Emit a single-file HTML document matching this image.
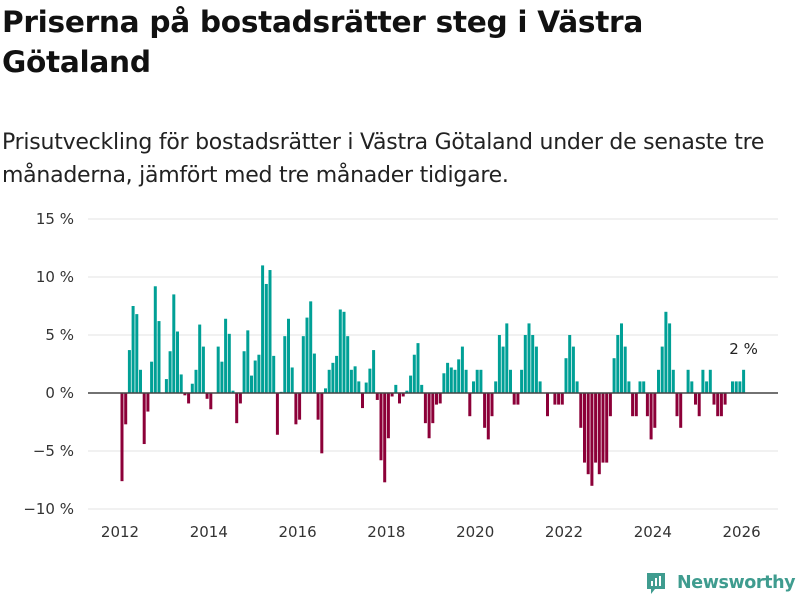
<!DOCTYPE html>
<html><head><meta charset="utf-8"><style>
body{margin:0;width:800px;height:600px;background:#fff;font-family:"Liberation Sans","DejaVu Sans",sans-serif;color:#111;overflow:hidden;position:relative}
h1{position:absolute;left:2px;top:2px;margin:0;font-size:29.6px;line-height:40px;font-weight:bold;font-family:"DejaVu Sans","Liberation Sans",sans-serif;letter-spacing:-0.3px}
p{position:absolute;left:2px;top:126px;margin:0;font-size:22px;line-height:33px;font-family:"DejaVu Sans","Liberation Sans",sans-serif;color:#222;letter-spacing:-0.25px}
</style></head><body>
<h1>Priserna på bostadsrätter steg i Västra<br>Götaland</h1>
<p>Prisutveckling för bostadsrätter i Västra Götaland under de senaste tre<br>månaderna, jämfört med tre månader tidigare.</p>
<svg id="chart" width="800" height="600" style="position:absolute;left:0;top:0" font-family="DejaVu Sans, Liberation Sans, sans-serif"></svg>
<div style="position:absolute;left:645px;top:570px;height:26px;display:flex;align-items:center">
<svg width="22" height="24"><path d="M2 2h18v16h-10l-4 5v-5h-4z" fill="#3f9c8f"/><rect x="6" y="10" width="2" height="5" fill="#fff"/><rect x="10" y="7" width="2" height="8" fill="#fff"/><rect x="14" y="5" width="2" height="10" fill="#fff"/></svg>
<span style="margin-left:10px;font-size:17.5px;font-weight:bold;color:#3f9c8f;font-family:'DejaVu Sans','Liberation Sans',sans-serif;letter-spacing:-0.4px">Newsworthy</span></div>
<script>
const values=[-7.6,-2.7,3.7,7.5,6.8,2.0,-4.4,-1.6,2.7,9.2,6.2,0,1.2,3.6,8.5,5.3,1.6,-0.2,-0.9,0.8,2.0,5.9,4.0,-0.5,-1.4,0,4.0,2.7,6.4,5.1,0.2,-2.6,-0.9,3.6,5.4,1.5,2.8,3.3,11.0,9.4,10.6,3.2,
-3.6,0.1,4.9,6.4,2.2,-2.7,-2.3,4.9,6.5,7.9,3.4,-2.3,-5.2,0.4,2.0,2.6,3.2,7.2,7.0,4.9,2.0,2.3,1.0,-1.3,0.9,2.1,3.7,-0.6,-5.8,-7.7,-3.9,-0.3,0.7,-0.9,-0.3,0.2,1.5,3.3,4.3,0.7,-2.6,-3.9,-2.6,-1.0,-0.9,
1.7,2.6,2.2,2.0,2.9,4.0,2.0,-2,1,2,2,-3,-4,-2,1,5,4,6,2,-1,-1,2,5,6,5,4,1,0,-2,0,-1,-1,-1,3,5,4,1,-3,-6,-7,-8,-6,
-7,-6,-6,-2,3,5,6,4,1,-2,-2,1,1,-2,-4,-3,2,4,7,6,2,-2,-3,0,2,1,-1,-2,2,1,2,-1,-2,-2,-1,0,1,1,1,2];
const startYear=2012;
const yTicks=[-10,-5,0,5,10,15];
const xTickYears=[2012,2014,2016,2018,2020,2022,2024,2026];
const lastLabel="2 %";
const svg=document.getElementById('chart');
const NS="http://www.w3.org/2000/svg";
const y=v=>393-v*11.6;
const x=i=>122+i*3.7;
function mk(t,a){const e=document.createElementNS(NS,t);for(const k in a)e.setAttribute(k,a[k]);svg.appendChild(e);return e;}
yTicks.forEach(v=>{
 if(v!==0){const g=mk('line',{x1:88,x2:778,y1:y(v),y2:y(v),stroke:'#e3e3e3','stroke-width':1});
 
 }
 const t=mk('text',{x:74,y:y(v)+5,'text-anchor':'end','font-size':15,fill:'#333'});
 
 
 t.textContent=(v<0?'−'+(-v):v)+' %';
});
values.forEach((v,i)=>{
 const r=mk('rect',{x:x(i)-1.5,width:3,y:Math.min(y(v),y(0)),height:Math.abs(y(v)-y(0)),fill:v>=0?'#00a096':'#8c0038'});
 
 
});
const z=mk('line',{x1:88,x2:778,y1:y(0),y2:y(0),stroke:'#444','stroke-width':1.5});


xTickYears.forEach(yr=>{
 const t=mk('text',{x:x((yr-startYear)*12)-2,y:537,'text-anchor':'middle','font-size':15,fill:'#333'});
 
 
 t.textContent=yr;
});
const li=values.length-1;
const a=mk('text',{x:x(li),y:y(values[li])-16,'text-anchor':'middle','font-size':15,fill:'#222'});


a.textContent=lastLabel;
</script>
</body></html>
